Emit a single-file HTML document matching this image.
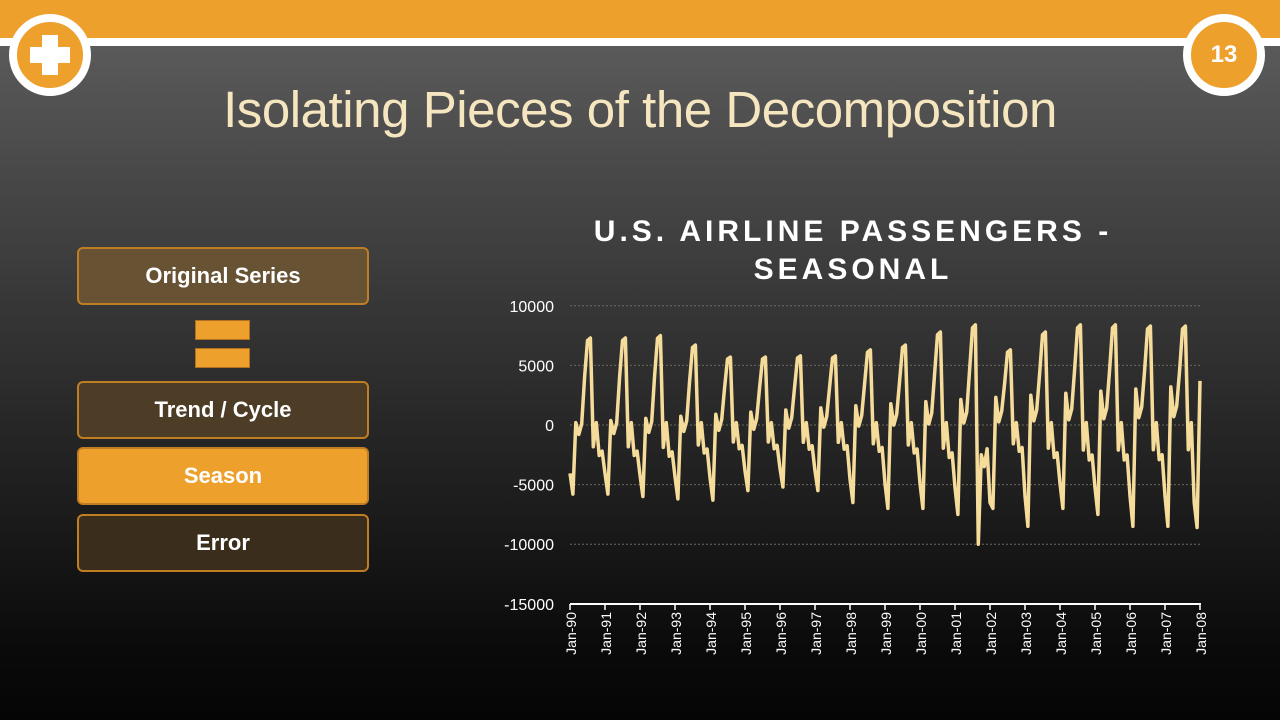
<!DOCTYPE html>
<html><head><meta charset="utf-8"><style>
html,body{margin:0;padding:0}
body{width:1280px;height:720px;overflow:hidden;position:relative;font-family:"Liberation Sans",sans-serif;background:linear-gradient(#606060 0px,#4a4a4a 160px,#2a2a2a 400px,#0a0a0a 650px,#050505 720px)}
.top{position:absolute;left:0;top:0;width:1280px;height:38px;background:#eea02c}
.wl{position:absolute;left:0;top:38px;width:1280px;height:8px;background:#fff}
.circ{position:absolute;width:66px;height:66px;border-radius:50%;background:#eea02c;border:8px solid #fff}
.title{position:absolute;left:0;width:1280px;top:80px;text-align:center;color:#f6e6c0;font-size:51px;letter-spacing:-0.45px}
.btn{position:absolute;left:77px;width:288px;height:54px;border:2px solid #c07e22;border-radius:6px;color:#fff;font-weight:bold;font-size:22px;text-align:center;line-height:54px}
.eq{position:absolute;left:195px;width:53px;height:18px;background:#eea02c;border:1px solid #b07020}
</style></head><body>
<div class="top"></div><div class="wl"></div>
<div class="circ" style="left:9px;top:14px"><div style="position:absolute;left:25px;top:13px;width:16px;height:40px;background:#fff"></div><div style="position:absolute;left:13px;top:25px;width:40px;height:16px;background:#fff"></div></div>
<div class="circ" style="left:1183px;top:14px;text-align:center;line-height:66px;color:#fff;font-weight:bold;font-size:24px">13</div>
<div class="title">Isolating Pieces of the Decomposition</div>
<div class="btn" style="top:247px;background:#675234">Original Series</div>
<div class="eq" style="top:320px"></div><div class="eq" style="top:348px"></div>
<div class="btn" style="top:381px;background:#4d3d26">Trend / Cycle</div>
<div class="btn" style="top:447px;background:#eea02c">Season</div>
<div class="btn" style="top:514px;background:#3a2d1c">Error</div>
<svg id="ch" width="1280" height="720" style="position:absolute;left:0;top:0" font-family="Liberation Sans, sans-serif">
<text x="853" y="241" text-anchor="middle" fill="#fff" font-size="30" font-weight="bold" letter-spacing="4">U.S. AIRLINE PASSENGERS -</text>
<text x="853" y="279" text-anchor="middle" fill="#fff" font-size="30" font-weight="bold" letter-spacing="4">SEASONAL</text>
</svg>
<script>
var s=document.getElementById('ch'),h='';
function Y(v){return 425-v*11.92/1000;}
[10000,5000,0,-5000,-10000,-15000].forEach(function(v){
 var y=Y(v);
 if(v>-15000)h+='<line x1="570" x2="1200" y1="'+y+'" y2="'+y+'" stroke="#6a6a5a" stroke-dasharray="2,2" stroke-width="1"/>';
 h+='<text x="554" y="'+(y+6)+'" text-anchor="end" fill="#fff" font-size="16">'+v+'</text>';
});
h+='<line x1="570" x2="1201" y1="604" y2="604" stroke="#fff" stroke-width="2"/>';
var yrs=['90','91','92','93','94','95','96','97','98','99','00','01','02','03','04','05','06','07','08'];
yrs.forEach(function(t,i){var x=570+i*35;
 h+='<line x1="'+x+'" x2="'+x+'" y1="604" y2="610" stroke="#fff" stroke-width="1.5"/>';
 h+='<text transform="translate('+(x+6)+',612) rotate(-90)" text-anchor="end" fill="#fff" font-size="14">Jan-'+t+'</text>';});
var A=[7.3,7.3,7.5,6.7,5.7,5.7,5.8,5.8,6.3,6.7,7.8,8.4,6.3,7.8,8.4,8.4,8.3,8.3];
var B=[5.8,5.8,6.0,6.2,6.3,5.5,5.2,5.5,6.5,7.0,7.0,7.5,8.0,8.5,7.0,7.5,8.5,8.5];
var P=[],pts=[];
for(var y=0;y<18;y++){var a=A[y],b=B[y],r=y/17;
 var m=[-0.7*b,-b,0.2+3*r,-0.8+1.5*r,0.1+1.5*r,0.55*a,0.97*a,a,-0.25*a,0.2,-0.35*a,-0.3*a];
 if(y==11){m[8]=-10;m[9]=-2.5;m[10]=-3.5;m[11]=-2;}
 if(y==12){m[0]=-6.5;m[1]=-7;}
 for(var k=0;k<12;k++)P.push(m[k]);}
P[214]=-6.5;P[215]=-8.6;P.push(3.7);
var st=630/(P.length-1);
for(var i=0;i<P.length;i++)pts.push((570+i*st).toFixed(1)+','+Y(P[i]*1000).toFixed(1));
h+='<polyline points="'+pts.join(' ')+'" fill="none" stroke="#f6dc9a" stroke-width="3.5" stroke-linejoin="round"/>';
s.insertAdjacentHTML('beforeend',h);
</script>
</body></html>
